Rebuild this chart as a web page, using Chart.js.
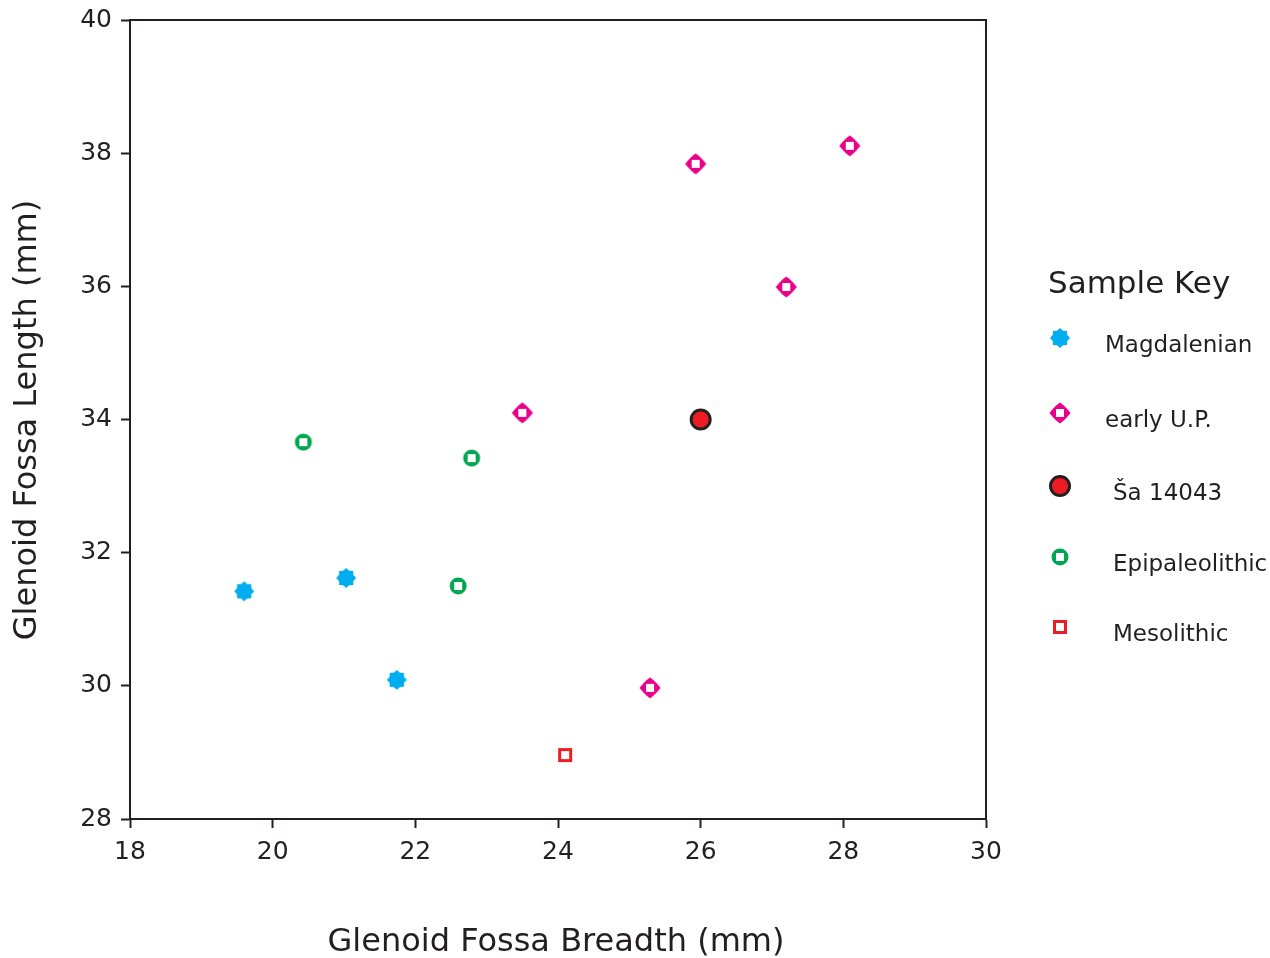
<!DOCTYPE html>
<html>
<head>
<meta charset="utf-8">
<script src="https://cdn.jsdelivr.net/npm/chart.js@4/dist/chart.umd.min.js"></script>
<style>
  body { margin: 0; background: #fff; }
  #wrap { width: 1270px; height: 958px; }
</style>
</head>
<body>
<div id="wrap"><canvas id="scatter"></canvas></div>
<script>
// data (breadth mm, length mm)
const magdalenian = [{x: 19.6, y: 31.42}, {x: 21.03, y: 31.62}, {x: 21.74, y: 30.09}];
const earlyUP = [{x: 25.93, y: 37.84}, {x: 28.09, y: 38.11}, {x: 27.2, y: 35.99}, {x: 23.5, y: 34.1}, {x: 25.29, y: 29.97}];
const sa14043 = [{x: 26.0, y: 34.0}];
const epipaleolithic = [{x: 20.43, y: 33.66}, {x: 22.79, y: 33.42}, {x: 22.6, y: 31.5}];
const mesolithic = [{x: 24.1, y: 28.96}];

const seriesNames = ['Magdalenian', 'early U.P.', 'Ša 14043', 'Epipaleolithic', 'Mesolithic'];
const xTicks = [18, 20, 22, 24, 26, 28, 30];
const yTicks = [28, 30, 32, 34, 36, 38, 40];

const FONT = "'DejaVu Sans', Verdana, sans-serif";
const INK = '#231f20';

// little canvases used as point styles
const marker = (size, draw) => {
    const c = document.createElement('canvas');
    c.width = c.height = size;
    draw(c.getContext('2d'), size / 2);
    return c;
};

const starMark = marker(22, (g, m) => {
    g.beginPath();
    for (let i = 0; i < 16; i++) {
        const r = i % 2 ? 7.8 : 10;
        const a = i * Math.PI / 8 - Math.PI / 2;
        g.lineTo(m + r * Math.cos(a), m + r * Math.sin(a));
    }
    g.closePath();
    g.fillStyle = '#00aeef';
    g.fill();
});

const diamondMark = marker(24, (g, m) => {
    g.beginPath();
    const pts = [[0, -10.6], [3.8, -7.4], [7.4, -3.8], [10.6, 0], [7.4, 3.8], [3.8, 7.4], [0, 10.6], [-3.8, 7.4], [-7.4, 3.8], [-10.6, 0], [-7.4, -3.8], [-3.8, -7.4]];
    pts.forEach(p => g.lineTo(m + p[0], m + p[1]));
    g.closePath();
    g.rect(m - 4, m - 4, 8, 8);
    g.fillStyle = '#e8008a';
    g.fill('evenodd');
});

const ringMark = marker(20, (g, m) => {
    g.beginPath();
    g.arc(m, m, 8.5, 0, Math.PI * 2);
    g.rect(m - 4, m - 4, 8, 8);
    g.fillStyle = '#00a651';
    g.fill('evenodd');
});

const squareMark = marker(18, (g, m) => {
    g.strokeStyle = '#ed1c24';
    g.lineWidth = 3;
    g.strokeRect(m - 5.5, m - 5.5, 11, 11);
});

const styles = [
    {pointStyle: starMark},
    {pointStyle: diamondMark},
    {pointStyle: 'circle', pointRadius: 9.5, pointBackgroundColor: '#ed1c24', pointBorderColor: INK, pointBorderWidth: 3},
    {pointStyle: ringMark},
    {pointStyle: squareMark}
];

const sets = [magdalenian, earlyUP, sa14043, epipaleolithic, mesolithic];

const datasets = sets.map((d, i) => Object.assign({
    label: seriesNames[i],
    data: d,
    showLine: false,
    pointRadius: 9
}, styles[i]));

// frame, axis titles and the sample key
const decor = {
    id: 'decor',
    afterDraw(chart) {
        const ctx = chart.ctx;
        const a = chart.chartArea;
        ctx.save();
        ctx.strokeStyle = INK;
        ctx.lineWidth = 2;
        ctx.strokeRect(a.left, a.top, a.right - a.left, a.bottom - a.top);

        ctx.fillStyle = INK;
        ctx.font = '32px ' + FONT;
        ctx.textAlign = 'center';
        ctx.textBaseline = 'middle';
        ctx.fillText('Glenoid Fossa Breadth (mm)', 556, 943);
        ctx.save();
        ctx.translate(28, 420);
        ctx.rotate(-Math.PI / 2);
        ctx.fillText('Glenoid Fossa Length (mm)', 0, 0);
        ctx.restore();

        ctx.textAlign = 'left';
        ctx.font = '31px ' + FONT;
        ctx.fillText('Sample Key', 1048, 285);

        const rows = [338, 413, 486, 557, 627];
        const textX = [1105, 1105, 1113, 1113, 1113];
        ctx.font = '23px ' + FONT;
        chart.data.datasets.forEach((ds, i) => {
            const y = rows[i];
            if (ds.pointStyle === 'circle') {
                ctx.beginPath();
                ctx.arc(1060, y, ds.pointRadius, 0, Math.PI * 2);
                ctx.fillStyle = ds.pointBackgroundColor;
                ctx.fill();
                ctx.lineWidth = ds.pointBorderWidth;
                ctx.strokeStyle = ds.pointBorderColor;
                ctx.stroke();
            } else {
                const img = ds.pointStyle;
                ctx.drawImage(img, 1060 - img.width / 2, y - img.height / 2);
            }
            ctx.fillStyle = INK;
            ctx.fillText(ds.label, textX[i], y + 8);
        });
        ctx.restore();
    }
};

new Chart('scatter', {
    type: 'scatter',
    data: {datasets},
    options: {
        responsive: true,
        maintainAspectRatio: false,
        animation: false,
        layout: {padding: {left: 0, top: 20, right: 284, bottom: 0}},
        plugins: {
            legend: {display: false},
            tooltip: {enabled: false}
        },
        scales: {
            x: {
                type: 'linear',
                min: 18,
                max: 30,
                afterBuildTicks: s => { s.ticks = xTicks.map(v => ({value: v})); },
                afterFit: s => { s.height = 139; s.paddingLeft = 0; s.paddingRight = 0; },
                grid: {drawOnChartArea: false, drawTicks: true, tickLength: 9, tickWidth: 2, tickColor: INK},
                border: {display: true, color: INK, width: 2},
                ticks: {color: INK, padding: 9, font: {family: FONT, size: 25}}
            },
            y: {
                type: 'linear',
                min: 28,
                max: 40,
                afterBuildTicks: s => { s.ticks = yTicks.map(v => ({value: v})); },
                afterFit: s => { s.width = 130; s.paddingTop = 0; s.paddingBottom = 0; },
                grid: {drawOnChartArea: false, drawTicks: true, tickLength: 9, tickWidth: 2, tickColor: INK},
                border: {display: true, color: INK, width: 2},
                ticks: {color: INK, padding: 9, font: {family: FONT, size: 25}}
            }
        }
    },
    plugins: [decor]
});
</script>
</body>
</html>
